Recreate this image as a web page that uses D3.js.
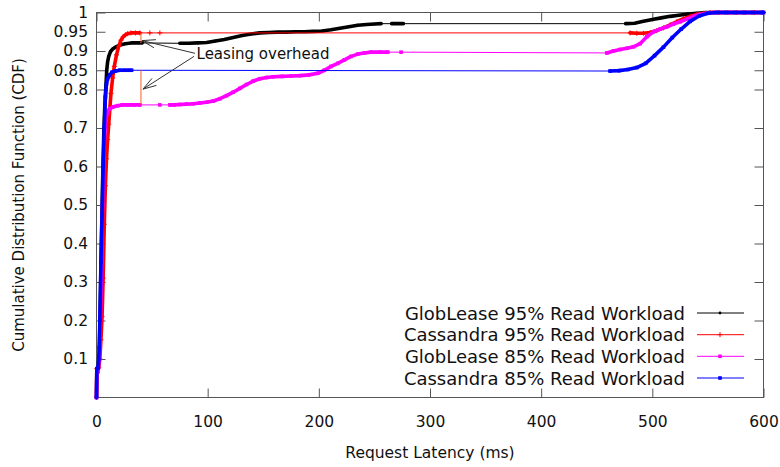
<!DOCTYPE html>
<html><head><meta charset="utf-8">
<script src="https://cdn.jsdelivr.net/npm/d3@7"></script>
<style>
body{margin:0;background:#fff;}
svg{display:block;font-family:"DejaVu Sans",Verdana,sans-serif;}
</style></head><body>
<svg id="chart" width="780" height="467"></svg>
<script>
// ---------- data (latency in ms, CDF) ----------
const xTicks = [0, 100, 200, 300, 400, 500, 600];
const yTicks = [0.1, 0.2, 0.3, 0.4, 0.5, 0.6, 0.7, 0.8, 0.85, 0.9, 0.95, 1];
const yTickLabels = ["0.1","0.2","0.3","0.4","0.5","0.6","0.7","0.8","0.85","0.9","0.95","1"];
const seriesNames = ["GlobLease 95% Read Workload","Cassandra 95% Read Workload","GlobLease 85% Read Workload","Cassandra 85% Read Workload"];

const globLease95 = [[0,0],[0.3,0.075],[1.5,0.078],[2.5,0.11],[3.5,0.25],[4.5,0.42],[5.5,0.56],[6.5,0.68],[7.5,0.76],[8.5,0.81],[9.2,0.85],[10,0.872],[11,0.886],[12.5,0.898],[14.5,0.905],[17,0.91],[20,0.914],[23,0.917],[26,0.919],[29,0.92],[31.5,0.921],[34,0.921],[37.5,0.921],[41,0.921],
  [75,0.92],[83,0.92],[91,0.921],[99,0.922],[107,0.926],[115,0.93],[123,0.935],[131,0.94],[139,0.944],[147,0.947],[155,0.948],[163,0.949],[171,0.949],[179,0.95],[187,0.95],[195,0.951],[203,0.952],[211,0.955],[219,0.959],[227,0.963],[235,0.967],[243,0.969],[250,0.97],[256,0.971],[265.5,0.971],[271,0.971],[276,0.971],
  [476,0.971],[484,0.972],[492,0.977],[500,0.982],[508,0.986],[516,0.99],[524,0.993],[532,0.996],[540,0.998],[548,1],[556,1],[564,1],[572,1],[580,1],[588,1],[596,1],[600,1]];

const cassandra95 = [[0,0],[0.3,0.075],[2,0.077],[3,0.1],[4,0.15],[5,0.21],[6,0.31],[7,0.45],[8,0.55],[9,0.62],[10,0.67],[11,0.71],[12,0.75],[13,0.79],[14.5,0.83],[16,0.86],[18,0.89],[20,0.912],[22,0.928],[24,0.937],[26,0.942],[28,0.945],[31,0.947],[35,0.947],[39,0.947],[48,0.947],[57,0.947],
  [480,0.947],[486,0.946],[492,0.946],[498,0.948],[504,0.953],[510,0.96],[516,0.968],[522,0.976],[528,0.984],[534,0.99],[540,0.995],[546,0.998],[552,1],[560,1],[568,1],[576,1],[584,1],[592,1],[600,1]];

const globLease85 = [[0,0],[0.3,0.065],[1.5,0.067],[2.5,0.1],[3.5,0.2],[4.5,0.35],[5.5,0.5],[6.5,0.62],[7.5,0.69],[8.5,0.725],[10,0.742],[12,0.75],[15,0.755],[19,0.758],[23,0.76],[27,0.76],[30,0.76],[34,0.76],[39,0.76],[57,0.76],[66,0.76],[70,0.76],
  [75,0.761],[81,0.762],[87,0.763],[93,0.765],[99,0.767],[105,0.77],[111,0.776],[117,0.784],[123,0.793],[129,0.803],[135,0.813],[141,0.822],[147,0.828],[153,0.831],[159,0.833],[167,0.834],[175,0.835],[183,0.836],[191,0.838],[199,0.842],[205,0.85],[211,0.86],[217,0.868],[223,0.877],[229,0.886],[235,0.892],[241,0.895],[247,0.897],[255,0.897],[262,0.897],[274,0.897],
  [459,0.895],[465,0.9],[471,0.904],[477,0.907],[483,0.911],[489,0.919],[495,0.937],[501,0.95],[507,0.957],[513,0.963],[519,0.97],[525,0.976],[531,0.983],[537,0.99],[543,0.995],[549,0.998],[555,1],[562,1],[570,1],[578,1],[586,1],[594,1],[600,1]];

const cassandra85 = [[0,0],[0.3,0.075],[1.5,0.077],[2,0.1],[2.5,0.13],[3,0.2],[4,0.35],[5,0.47],[6,0.6],[7,0.7],[8,0.78],[9,0.815],[10,0.828],[12,0.838],[14,0.845],[17,0.848],[21,0.85],[25,0.85],[28.5,0.85],[31.5,0.85],
  [462,0.848],[470,0.849],[478,0.852],[486,0.857],[494,0.868],[502,0.888],[510,0.91],[518,0.935],[526,0.957],[534,0.977],[542,0.991],[550,0.998],[558,1],[566,1],[574,1],[582,1],[590,1],[598,1],[600,1]];

// leasing-overhead gaps: [ms, low CDF, high CDF]
const overheadGaps = [[40, 0.76, 0.85], [40, 0.921, 0.947]];
const annotationText = "Leasing overhead";
const annotationAt = [90, 0.878];
const annotationArrows = [[[88.6, 0.894], [40.9, 0.927]], [[87.7, 0.886], [41.8, 0.801]]];

// ---------- layout ----------
const svg = d3.select("#chart");
const x = d3.scaleLinear().domain([0, 600]).range([96.5, 763.5]);
const y = d3.scaleLinear().domain([0, 1]).range([397.5, 12.5]);
const DENSE_GAP = 8.5;
const tickFont = "15.5px";
const frameColor = "#555";

// axes (ticks inward, mirrored)
function styleAxis(g){
  g.select(".domain").remove();
  g.selectAll(".tick line").attr("stroke", frameColor);
  g.selectAll(".tick text").attr("fill", "#111").style("font-size", tickFont).style("font-family", '"DejaVu Sans",Verdana,sans-serif');
}
svg.append("g").attr("transform", `translate(0,${y(0)})`)
  .call(d3.axisBottom(x).tickValues(xTicks).tickFormat(d3.format("d")).tickSizeInner(-9).tickSizeOuter(0).tickPadding(18.5))
  .call(styleAxis);
svg.append("g").attr("transform", `translate(0,${y(1)})`)
  .call(d3.axisTop(x).tickValues(xTicks).tickFormat("").tickSizeInner(-9).tickSizeOuter(0))
  .call(styleAxis);
svg.append("g").attr("transform", `translate(${x(0)},0)`)
  .call(d3.axisLeft(y).tickValues(yTicks).tickFormat((d, i) => yTickLabels[i]).tickSizeInner(-9).tickSizeOuter(0).tickPadding(8.5))
  .call(styleAxis);
svg.append("g").attr("transform", `translate(${x(600)},0)`)
  .call(d3.axisRight(y).tickValues(yTicks).tickFormat("").tickSizeInner(-9).tickSizeOuter(0))
  .call(styleAxis);

svg.append("rect").attr("x", x(0)).attr("y", y(1)).attr("width", x(600) - x(0)).attr("height", y(0) - y(1))
  .attr("fill", "none").attr("stroke", frameColor).attr("stroke-width", 1);

// axis titles
svg.append("text").attr("x", (x(0) + x(600)) / 2).attr("y", 458).attr("text-anchor", "middle")
  .style("font-size", "15.5px").attr("fill", "#111").text("Request Latency (ms)");
svg.append("text").attr("transform", `translate(23.5,${(y(0) + y(1)) / 2}) rotate(-90)`).attr("text-anchor", "middle")
  .style("font-size", "15px").attr("fill", "#111").text("Cumulative Distribution Function (CDF)");

// series
const colors = ["#000000", "#ff0000", "#ff00ff", "#0000ff"];
const markers = ["dot", "plus", "square", "square"];
const allData = [globLease95, cassandra95, globLease85, cassandra85];
const line = d3.line().x(d => x(d[0])).y(d => y(d[1]));

function drawMarker(g, type, color, px, py){
  if (type === "dot") g.append("circle").attr("cx", px).attr("cy", py).attr("r", 1.4).attr("fill", color);
  else if (type === "plus") g.append("path").attr("d", `M${px-2.5},${py}H${px+2.5}M${px},${py-2.5}V${py+2.5}`).attr("stroke", color).attr("stroke-width", 1);
  else g.append("rect").attr("x", px - 1.8).attr("y", py - 1.8).attr("width", 3.6).attr("height", 3.6).attr("fill", color);
}

const plot = svg.append("g");
allData.forEach((data, si) => {
  const color = colors[si];
  const g = plot.append("g");
  g.append("path").attr("d", line(data)).attr("fill", "none").attr("stroke", color).attr("stroke-width", 1);
  const runs = []; let cur = null;
  for (let i = 1; i < data.length; i++) {
    if (data[i][0] - data[i-1][0] <= DENSE_GAP) {
      if (!cur) { cur = [data[i-1]]; runs.push(cur); }
      cur.push(data[i]);
    } else cur = null;
  }
  runs.forEach(r => g.append("path").attr("d", line(r)).attr("fill", "none").attr("stroke", color)
    .attr("stroke-width", 3.6).attr("stroke-linejoin", "round").attr("stroke-linecap", "round"));
  data.forEach(d => drawMarker(g, markers[si], color, x(d[0]), y(d[1])));
});

// overhead gaps
overheadGaps.forEach(d => svg.append("line").attr("x1", x(d[0])).attr("x2", x(d[0])).attr("y1", y(d[1])).attr("y2", y(d[2]))
  .attr("stroke", "#f4612a").attr("stroke-width", 1));

// annotation
svg.append("text").attr("x", x(annotationAt[0])).attr("y", y(annotationAt[1])).style("font-size", "15px").attr("fill", "#111").text(annotationText);
annotationArrows.forEach(([a, b]) => {
  const x1 = x(a[0]), y1 = y(a[1]), x2 = x(b[0]), y2 = y(b[1]);
  svg.append("line").attr("x1", x1).attr("y1", y1).attr("x2", x2).attr("y2", y2).attr("stroke", "#333").attr("stroke-width", 1);
  const ang = Math.atan2(y1 - y2, x1 - x2), L = 14, h = 0.3;
  [ang - h, ang + h].forEach(t => svg.append("line").attr("x1", x2).attr("y1", y2)
    .attr("x2", x2 + L * Math.cos(t)).attr("y2", y2 + L * Math.sin(t)).attr("stroke", "#333").attr("stroke-width", 1));
});

// legend
const legendRows = [313, 334.7, 356.3, 378];
seriesNames.forEach((name, i) => {
  const ry = legendRows[i];
  svg.append("text").attr("x", 685).attr("y", ry + 6.5).attr("text-anchor", "end").style("font-size", "18px").attr("fill", "#111").text(name);
  svg.append("line").attr("x1", 697).attr("x2", 744).attr("y1", ry).attr("y2", ry).attr("stroke", colors[i]).attr("stroke-width", 1);
  drawMarker(svg, markers[i], colors[i], 720, ry);
});
</script>
</body></html>
